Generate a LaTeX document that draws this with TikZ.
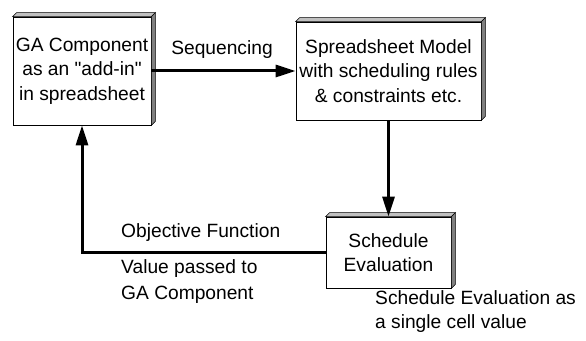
\documentclass[tikz,border=0pt]{standalone}
\usepackage{fontspec}
\setmainfont{Liberation Sans}
\usepackage{tikz}
\usetikzlibrary{arrows.meta,shapes}
\definecolor{topgray}{HTML}{C0C0C0}
\definecolor{sidegray}{HTML}{808080}
\newcommand{\bevel}{4}
\newcommand{\txtsize}{\fontsize{19.2}{24.5}\selectfont}

\begin{document}
\begin{tikzpicture}[x=1pt,y=1pt,
        block/.style={draw=black, line width=0.8pt, fill=white, rectangle, align=center, inner sep=0pt, font=\txtsize},
        flow/.style={line width=3pt, -{Triangle[length=20pt,width=12pt]}},
        lbl/.style={inner sep=0pt, font=\txtsize}]
            \useasboundingbox (0,0) rectangle (586,340);
            % boxes
            \node[block, minimum width=138, minimum height=108] (ga) at (82,269) {GA Component\\as an \textquotedbl add-in\textquotedbl\\in spreadsheet};
            \node[block, minimum width=185, minimum height=98] (model) at (388.5,269) {Spreadsheet Model\\with scheduling rules\\\& constraints etc.};
            \node[block, minimum width=125, minimum height=71] (eval) at (388.5,87.5) {Schedule\\Evaluation};
            \foreach \n in {ga,model,eval}{
                \filldraw[fill=topgray, line width=0.6pt] (\n.north west) -- ++(\bevel,\bevel) -- ([shift={(\bevel,\bevel)}]\n.north east) -- (\n.north east) -- cycle;
                \filldraw[fill=sidegray, line width=0.6pt] (\n.north east) -- ++(\bevel,\bevel) -- ([shift={(\bevel,\bevel)}]\n.south east) -- (\n.south east) -- cycle;
            }
            % connectors
            \draw[flow] (ga.east) -- (model.west);
            \draw[flow] (model.south) -- (eval.north);
            \draw[flow] (eval.west) -| (ga.south);
            % labels
            \node[lbl] (seq) at (222,290) {Sequencing};
            \node[lbl, anchor=west] (obj) at (121,107) {Objective Function};
            \node[lbl, anchor=west, align=left] (val) at (121,58.5) {Value passed to\\[2pt]GA Component};
            \node[lbl, anchor=west, align=left] (cell) at (375,28.5) {Schedule Evaluation as\\a single cell value};
        \end{tikzpicture}
\end{document}
